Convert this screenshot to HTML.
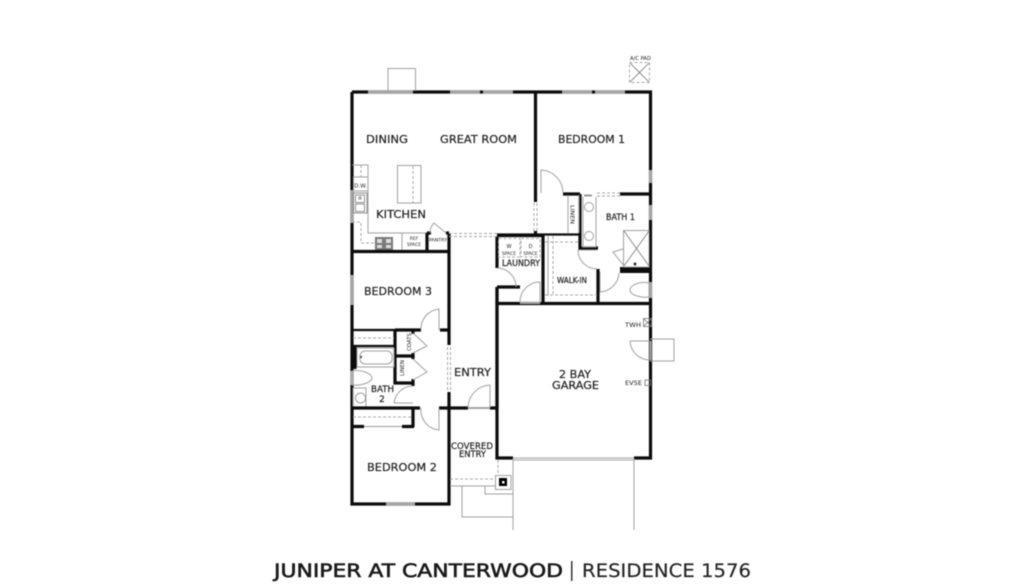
<!DOCTYPE html>
<html>
<head>
<meta charset="utf-8">
<style>
html,body{margin:0;padding:0;background:#fff;}
svg{display:block;filter:blur(0.4px);}
text{font-family:"DejaVu Sans","Liberation Sans",sans-serif;fill:#222;}
.w{stroke:#0c0c0c;stroke-width:3.2;fill:none;}
.t{stroke:#0c0c0c;stroke-width:2.2;fill:none;}
.g{stroke:#a0a0a0;stroke-width:1;fill:none;}
.k{stroke:#777;stroke-width:.8;fill:none;}
.d{stroke:#a8a8a8;stroke-width:1;fill:none;stroke-dasharray:3 2;}
.win{stroke:#a5a5a5;stroke-width:3.2;fill:none;}
.lab{stroke:#222;stroke-width:.2;}
</style>
</head>
<body>
<svg width="1024" height="586" viewBox="0 0 1024 586" xmlns="http://www.w3.org/2000/svg">
<rect width="1024" height="586" fill="#fff"/>

<!-- exterior walls -->
<path class="w" d="M352 92H650.500V458H634M513 458H497V303.500H650M352 92V504H449V392M449 345V233"/>
<path d="M620 267h31v6h-31z" fill="#0c0c0c"/>
<!-- windows -->
<path class="win" d="M368 92H413M450 92H480M483 92H513M562 92H592M595 92H625"/>
<path class="win" d="M386 504H415M650.500 170V183M650.500 205V220M650.500 282V298M352 190V223M352 275V305"/>
<!-- pop-out -->
<path class="g" d="M388 91V68.500H415.500V91"/>
<!-- AC pad -->
<rect x="629.500" y="62.500" width="20" height="20" class="d" stroke-dasharray="2 1"/>
<path class="k" d="M630 63L649 82M649 63L630 82"/>
<text x="630" y="60" font-size="5" textLength="21" lengthAdjust="spacingAndGlyphs">A/C PAD</text>

<!-- Bedroom 1 walls -->
<path class="w" d="M535.500 92V202M535.500 231V236M563 194H580M620 194H650M580 194V248H598M598 269V303M543 234V303"/>
<path class="t" d="M497 234.500H580"/>
<path class="d" d="M534 203V231M537 203V231M597 193H620M597 196H620"/>
<path class="g" d="M541 193V170A23 23 0 0 1 563 193"/>
<path class="g" d="M568 195V233M579 195V233"/>
<text transform="translate(570.500,205) rotate(90)" font-size="5.500" textLength="19" lengthAdjust="spacingAndGlyphs">LINEN</text>

<!-- Bath 1 -->
<path class="g" d="M583 197V247M596 197V247H582"/>
<rect x="584" y="194.500" width="8" height="2" fill="#999"/>
<circle cx="589" cy="207" r="4.500" class="g"/>
<circle cx="589" cy="236" r="4.500" class="g"/>
<rect x="623.500" y="230.500" width="25.500" height="36.500" class="g" stroke-width="1.500"/>
<path class="k" d="M624 231L649 266M649 231L624 266"/>
<path class="g" d="M623 249L613 252L624 266"/>
<circle cx="635" cy="264" r="1.500" fill="#333"/>
<path class="g" d="M578 250A19 19 0 0 0 597 269M578 250H597"/>
<path class="g" d="M600 272V292A20 20 0 0 0 619 273" stroke-width="1.500"/>
<path class="g" d="M649 283C640 281 630 285 630 290C630 295 640 298 649 297Z"/>

<!-- Laundry -->
<path class="t" d="M497 236H543"/>
<path class="w" d="M497 236V268M497 287V303M497 287H520"/>
<path class="g" d="M497 268A19 19 0 0 1 516 287M540 303V282A20 20 0 0 0 520 303"/>
<path class="win" style="stroke-width:2" d="M520 303H540"/>
<rect x="498.500" y="238.500" width="21.500" height="18.500" class="d" stroke-dasharray="2 1"/>
<rect x="521" y="238.500" width="19" height="18.500" class="d" stroke-dasharray="2 1"/>
<text x="509" y="248" font-size="5" text-anchor="middle">W</text>
<text x="509" y="255" font-size="4.500" text-anchor="middle">SPACE</text>
<text x="530.500" y="248" font-size="5" text-anchor="middle">D</text>
<text x="530.500" y="255" font-size="4.500" text-anchor="middle">SPACE</text>

<!-- walk-in shelves -->
<path class="d" d="M553 236V296M545 242H579M545 295H597"/>
<path class="g" stroke="#ccc" d="M548 236V296"/>

<!-- kitchen -->
<path class="g" d="M352 165H368V233H427"/>
<rect x="397.500" y="165.500" width="23.500" height="37.500" class="g"/>
<path class="d" d="M413 166V203"/>
<rect x="353.500" y="177" width="14.500" height="14" class="g"/>
<text x="360.500" y="187.500" font-size="5.500" text-anchor="middle">D.W.</text>
<rect x="353.500" y="193" width="13.500" height="20" class="k"/>
<rect x="355.500" y="195" width="9" height="7.500" class="k"/>
<rect x="355.500" y="204" width="9" height="7.500" class="k"/>
<circle cx="360" cy="198" r="1.200" class="k"/>
<path class="d" d="M361 165V177M352 222H361V243H376"/>
<rect x="375" y="237" width="18" height="13" fill="#7a7a7a"/>
<path d="M377 239h5v4h-5zM377 245h5v3h-5zM386 239h5v4h-5zM386 245h5v3h-5z" fill="#ddd"/>
<path class="g" d="M402 233V250M426 233V250"/>
<text x="414" y="240" font-size="4.500" text-anchor="middle">REF</text>
<text x="414" y="246" font-size="4.500" text-anchor="middle">SPACE</text>
<path class="w" d="M427 233V251M427 233H431M446 233H449"/>
<path class="g" d="M446 233L434 223A14 14 0 0 0 430 233"/>
<text x="429" y="241.500" font-size="4" textLength="18" lengthAdjust="spacingAndGlyphs">PANTRY</text>
<path class="d" d="M449 233.500H497M449 236.500H497"/>
<path class="w" d="M352 251.500H449"/>

<!-- entry wall / dashed -->
<path class="d" d="M447.500 347V392M450.500 347V392"/>
<path class="w" d="M497 408V287"/>

<!-- Bedroom 3 -->
<path class="t" d="M352 330H395M352 346H395"/>
<path class="w" d="M395 330H421M440 330H449M395 330V383H412M395 356H413M413 330V334M413 353V359M413 379V386"/>
<path class="d" d="M353 338H394"/>
<path class="g" d="M439 330V309A20 20 0 0 0 421 330"/>
<path class="g" stroke="#bbb" d="M413 333L427 346L413 353M413 359L427 372L413 380"/>
<text transform="translate(411,351) rotate(-90)" font-size="5" textLength="18" lengthAdjust="spacingAndGlyphs">COATS</text>
<text transform="translate(404,376) rotate(-90)" font-size="5" textLength="16" lengthAdjust="spacingAndGlyphs">LINEN</text>
<path d="M352 346h4.500v23h-4.500z" fill="#0c0c0c"/>

<!-- Bath 2 -->
<rect x="357" y="348" width="37" height="19" class="g"/>
<rect x="360" y="351" width="32" height="13" rx="5" class="g"/>
<circle cx="361" cy="357" r="1.200" fill="#555"/>
<path class="g" d="M352 371C362 369 372 374 372 378C372 382 362 386 352 385Z"/>
<rect x="350.500" y="371" width="3" height="14" fill="#aaa"/>
<rect x="353" y="388" width="13" height="20" class="g"/>
<circle cx="360.500" cy="398" r="5" class="g"/>
<path class="g" d="M394 403H413M394 403A19 19 0 0 1 413 386"/>

<!-- bath2/bed2 wall -->
<path class="w" d="M352 408H420M439 408H449M449 408H468M490 408H497M413 408V427M352 426.500H364M402 426.500H414"/>
<path class="k" d="M364 426.500H402"/>
<path class="d" d="M353 417H412"/>
<path class="g" d="M439 408V430A20 20 0 0 1 421 408"/>
<path class="g" d="M490 408V385A23 23 0 0 0 468 408"/>
<path class="win" style="stroke-width:2" d="M468 408H490"/>

<!-- Garage -->
<path class="g" stroke-width="1.500" d="M513 458H634M513 460H634"/>
<path class="g" d="M513 458V530M634 458V530"/>
<path class="g" d="M650 339H674V361H650"/>
<path class="g" d="M630 341H650M630 341A20 20 0 0 0 650 360" stroke-width="1.200"/>
<path class="win" style="stroke-width:2" d="M650.500 341V360"/>
<rect x="643.500" y="318.500" width="8" height="8" class="k"/>
<path class="k" d="M644 319L651 326M651 319L644 326"/>
<rect x="645" y="380" width="5.500" height="5.500" class="k"/>

<!-- covered entry -->
<path class="d" d="M450 479H495M498 460V475"/>
<path class="g" d="M450 486H495M462 486V517H513M485 486V494H513"/>
<rect x="495.500" y="475.500" width="15.500" height="14" class="g" stroke-width="1.500"/>
<rect x="499" y="478" width="8" height="8" fill="#000"/>
<rect x="502" y="481" width="2.500" height="2.500" fill="#fff"/>

<!-- labels -->
<g font-size="11" class="lab">
<text x="366" y="143" textLength="42" lengthAdjust="spacingAndGlyphs">DINING</text>
<text x="440" y="143" textLength="77" lengthAdjust="spacingAndGlyphs">GREAT ROOM</text>
<text x="558" y="143" textLength="67" lengthAdjust="spacingAndGlyphs">BEDROOM 1</text>
<text x="376" y="218" textLength="50" lengthAdjust="spacingAndGlyphs">KITCHEN</text>
<text x="364" y="295" textLength="68" lengthAdjust="spacingAndGlyphs">BEDROOM 3</text>
<text x="454" y="376" textLength="37" lengthAdjust="spacingAndGlyphs">ENTRY</text>
<text x="367" y="471" textLength="70" lengthAdjust="spacingAndGlyphs">BEDROOM 2</text>
<text x="559" y="378" textLength="32" lengthAdjust="spacingAndGlyphs">2 BAY</text>
<text x="552" y="389" textLength="47" lengthAdjust="spacingAndGlyphs">GARAGE</text>
</g>
<g font-size="9" class="lab">
<text x="606" y="220" textLength="29" lengthAdjust="spacingAndGlyphs">BATH 1</text>
<text x="371" y="392" textLength="23" lengthAdjust="spacingAndGlyphs">BATH</text>
<text x="382" y="402" text-anchor="middle">2</text>
<text x="502" y="266" textLength="38" lengthAdjust="spacingAndGlyphs">LAUNDRY</text>
<text x="451" y="449" textLength="42" lengthAdjust="spacingAndGlyphs">COVERED</text>
<text x="459" y="457" textLength="27" lengthAdjust="spacingAndGlyphs">ENTRY</text>
</g>
<text x="557" y="283" font-size="7.500" class="lab" textLength="30" lengthAdjust="spacingAndGlyphs">WALK-IN</text>
<text x="625" y="327" font-size="6.500" textLength="16" lengthAdjust="spacingAndGlyphs">TWH</text>
<text x="625" y="385" font-size="6.500" textLength="17" lengthAdjust="spacingAndGlyphs">EVSE</text>

<!-- title -->
<text x="274" y="577" font-size="19" textLength="289" lengthAdjust="spacingAndGlyphs" style="fill:#1a1a1a;stroke:#1a1a1a;stroke-width:.6">JUNIPER AT CANTERWOOD</text>
<rect x="571" y="561" width="1.500" height="20" fill="#333"/>
<text x="582" y="577" font-size="19" textLength="169" lengthAdjust="spacingAndGlyphs" style="fill:#222;stroke:#222;stroke-width:.15">RESIDENCE 1576</text>
</svg>
</body>
</html>
